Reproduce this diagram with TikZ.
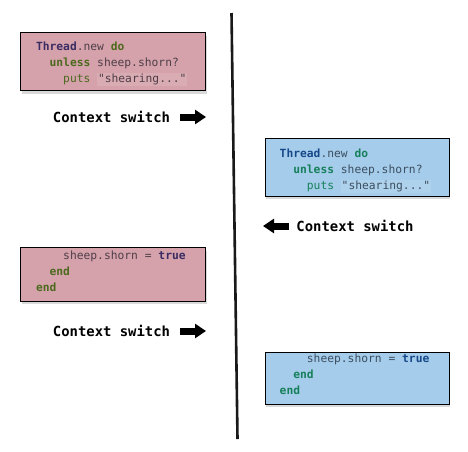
\documentclass[tikz,border=0pt]{standalone}
\usepackage{fontspec}
\setmonofont{DejaVu Sans Mono}
\usetikzlibrary{positioning}
\usetikzlibrary{arrows.meta}
\usetikzlibrary{shadows}
\definecolor{pinkfill}{HTML}{D5A2AB}
\definecolor{pinkstr}{HTML}{D9ABB3}
\definecolor{pinktxt}{HTML}{4E3E48}
\definecolor{pinkcls}{HTML}{3A2C63}
\definecolor{pinkkw}{HTML}{4C6A1E}
\definecolor{bluefill}{HTML}{A5CCEA}
\definecolor{bluestr}{HTML}{AED1EC}
\definecolor{bluetxt}{HTML}{3B4E60}
\definecolor{bluecls}{HTML}{17498A}
\definecolor{bluekw}{HTML}{16805A}
\newcommand{\pcls}[1]{\textcolor{pinkcls}{\bfseries #1}}
\newcommand{\pkw}[1]{\textcolor{pinkkw}{\bfseries #1}}
\newcommand{\pfn}[1]{\textcolor{pinkkw}{#1}}
\newcommand{\pstr}[1]{{\setlength{\fboxsep}{0.8pt}\colorbox{pinkstr}{#1}}}
\newcommand{\bcls}[1]{\textcolor{bluecls}{\bfseries #1}}
\newcommand{\bkw}[1]{\textcolor{bluekw}{\bfseries #1}}
\newcommand{\bfn}[1]{\textcolor{bluekw}{#1}}
\newcommand{\bstr}[1]{{\setlength{\fboxsep}{0.8pt}\colorbox{bluestr}{#1}}}
\tikzset{
    codebox/.style = {rectangle, draw=black, line width=0.8pt, anchor=north west,
        drop shadow={opacity=0.3, shadow xshift=1.5pt, shadow yshift=-3.5pt}},
    pinkbox/.style = {codebox, fill=pinkfill},
    bluebox/.style = {codebox, fill=bluefill},
    code/.style = {anchor=north west, inner sep=0pt, align=left,
        font=\ttfamily\fontsize{11.3}{16}\selectfont},
    pinkcode/.style = {code, text=pinktxt},
    bluecode/.style = {code, text=bluetxt},
    switch/.style = {font=\ttfamily\bfseries\fontsize{13.9}{16}\selectfont, inner sep=0pt},
    swarrow/.style = {line width=7pt, -{Triangle[length=11pt,width=14pt]}},
    timeline/.style = {line width=2.6pt, black!90}
}
\begin{document}
\begin{tikzpicture}[x=1pt,y=-1pt]
\path[use as bounding box] (0,0) rectangle (468,451);
%
\node[pinkbox,minimum width=185pt,minimum height=58pt] at (20,32) (p1) {};
\node[pinkcode] at (35.8,41.5) (p1code)
  {\pcls{Thread}.new \pkw{do}\\
   \hphantom{xx}\pkw{unless} sheep.shorn?\\
   \hphantom{xxxx}\pfn{puts} \pstr{"shearing..."}};
\node[bluebox,minimum width=184pt,minimum height=58pt] at (264.5,137.5) (b1) {};
\node[bluecode] at (279.5,148.5) (b1code)
  {\bcls{Thread}.new \bkw{do}\\
   \hphantom{xx}\bkw{unless} sheep.shorn?\\
   \hphantom{xxxx}\bfn{puts} \bstr{"shearing..."}};
\node[pinkbox,minimum width=185pt,minimum height=53.5pt] at (20,247) (p2) {};
\node[pinkcode] at (35.8,250.5) (p2code)
  {\hphantom{xxxx}sheep.shorn = \pcls{true}\\
   \hphantom{xx}\pkw{end}\\
   \pkw{end}};
\node[bluebox,minimum width=184pt,minimum height=52pt] at (264.5,351.5) (b2) {};
\node[bluecode] at (279.5,353.5) (b2code)
  {\hphantom{xxxx}sheep.shorn = \bcls{true}\\
   \hphantom{xx}\bkw{end}\\
   \bkw{end}};
%
\node[switch] at (111.5,117) (cs1) {Context switch};
\node[switch] at (355,226) (cs2) {Context switch};
\node[switch] at (111.5,331) (cs3) {Context switch};
%
\coordinate (a1s) at (180,117);
\coordinate (a1e) at (206,117);
\coordinate (a2s) at (289,226);
\coordinate (a2e) at (263,226);
\coordinate (a3s) at (180,331);
\coordinate (a3e) at (206,331);
\draw[swarrow] (a1s) -- (a1e);
\draw[swarrow] (a2s) -- (a2e);
\draw[swarrow] (a3s) -- (a3e);
%
\coordinate (ttop) at (231.5,13);
\coordinate (tbot) at (237.5,439);
\draw[timeline] (ttop) -- (tbot);

\end{tikzpicture}
\end{document}
